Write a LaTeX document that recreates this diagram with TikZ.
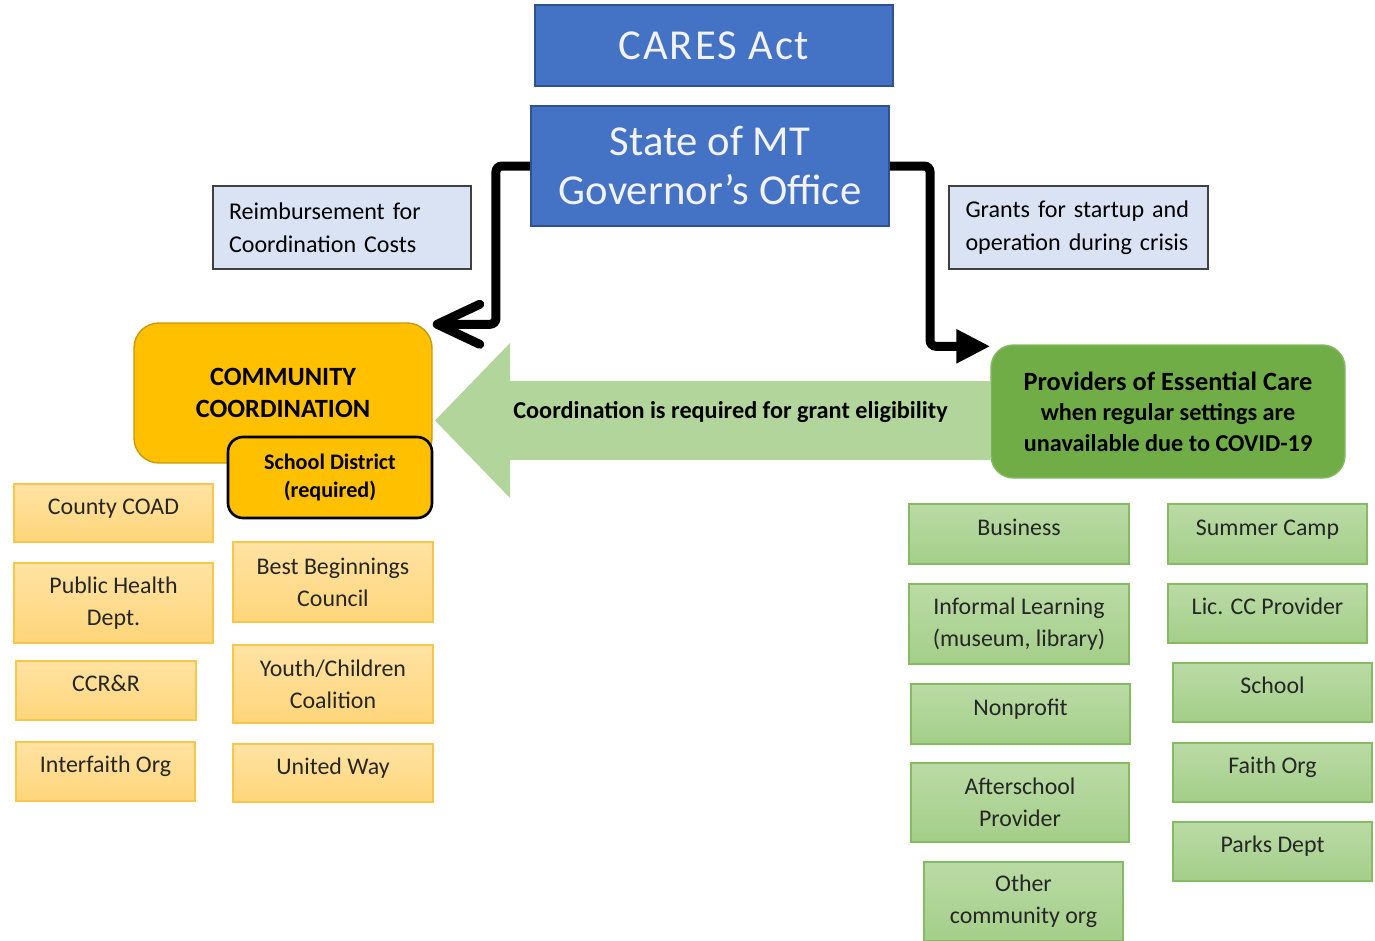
\documentclass[tikz,border=0pt]{standalone}
\usepackage{fontspec}
\setmainfont{Carlito}
\usetikzlibrary{arrows.meta}

\definecolor{govblue}{HTML}{4472C4}
\definecolor{govedge}{HTML}{2F528F}
\definecolor{govtext}{HTML}{F2F2F2}
\definecolor{notefill}{HTML}{DAE3F3}
\definecolor{coordgold}{HTML}{FFC000}
\definecolor{coordedge}{HTML}{C99A0A}
\definecolor{orgtop}{HTML}{FFE3A3}
\definecolor{orgbot}{HTML}{FFD57A}
\definecolor{orgedge}{HTML}{F9C64C}
\definecolor{provgreen}{HTML}{70AD47}
\definecolor{grntop}{HTML}{BADBA5}
\definecolor{grnbot}{HTML}{A4CE89}
\definecolor{grnedge}{HTML}{86BB63}
\definecolor{linkgreen}{HTML}{B2D59B}

\tikzset{
  govbox/.style={fill=govblue, draw=govedge, line width=1.2pt, text=govtext, align=center,
    font=\fontsize{24.3}{27.9}\selectfont},
  notebox/.style={fill=notefill, draw=black!75, line width=0.6pt, align=left, text width=4.52cm,
    font=\fontsize{13.7}{18.8}\selectfont},
  coordbox/.style={fill=coordgold, draw=coordedge, line width=0.8pt, rounded corners=0.5cm, align=center,
    font=\bfseries\fontsize{15}{18.2}\selectfont},
  schoolbox/.style={fill=coordgold, draw=black, line width=1.5pt, rounded corners=0.3cm, align=center,
    font=\bfseries\fontsize{12.6}{15.9}\selectfont},
  provbox/.style={fill=provgreen, draw=provgreen!85!white, line width=0.8pt, rounded corners=0.45cm, align=center,
    font=\bfseries\fontsize{13.8}{17.4}\selectfont},
  orgbox/.style={top color=orgtop, bottom color=orgbot, draw=orgedge, line width=0.8pt, align=center,
    text=black!85, font=\fontsize{13.6}{18.2}\selectfont},
  grnbox/.style={top color=grntop, bottom color=grnbot, draw=grnedge, line width=0.8pt, align=center,
    text=black!85, font=\fontsize{13.6}{18.2}\selectfont},
  oneline/.style={text height=9pt, text depth=7.6pt},
  linktext/.style={font=\bfseries\fontsize{13.8}{16}\selectfont},
  flowline/.style={line width=0.18cm, rounded corners=0.12cm}
}

\begin{document}
\begin{tikzpicture}[x=0.02cm, y=-0.02cm]
  \useasboundingbox (0,0) rectangle (1375,940);
  \def\orgBox#1#2#3#4#5#6#7{\node[#1, minimum width={(#5-#3)*0.02cm}, minimum height={(#6-#4)*0.02cm}]
    (#2) at ({(#3+#5)/2},{(#4+#6)/2}) {#7};}

  \fill[linkgreen] (990,381) -- (510,381) -- (510,343) -- (435,420.5) -- (510,498) -- (510,460) -- (990,460) -- cycle;
  \node[linktext] (eligible) at (730.5,412) {Coordination is required for grant eligibility};

  \orgBox{govbox}{cares}{535}{5}{893}{86}{\addfontfeatures{LetterSpace=4.4}CARES Act}
  \orgBox{govbox}{gov}{531}{106}{889}{226}{State of MT\\Governor’s Office}
  \orgBox{notebox}{reimb}{213}{186}{471}{269}{Reimbursement for\\Coordination Costs}
  \orgBox{notebox}{grants}{949}{186}{1208}{269}{Grants for startup and\\operation during crisis}

  \orgBox{coordbox}{cc}{134}{323}{432}{463}{COMMUNITY\\COORDINATION}
  \orgBox{schoolbox}{school}{228}{437}{432}{518}{School District\\(required)}
  \orgBox{provbox}{prov}{991}{345}{1345}{478}{{\fontsize{15}{17.4}\selectfont Providers of Essential Care}\\when regular settings are\\unavailable due to COVID-19}

  \orgBox{orgbox, oneline}{coad}{14}{484}{213}{542}{County COAD}
  \orgBox{orgbox}{health}{14}{563}{213}{643}{Public Health\\Dept.}
  \orgBox{orgbox, oneline}{ccrr}{16}{661}{196}{720}{CCR\&R}
  \orgBox{orgbox, oneline}{interfaith}{16}{742}{195}{801}{Interfaith Org}
  \orgBox{orgbox}{bestbeg}{233}{542}{433}{622}{Best Beginnings\\Council}
  \orgBox{orgbox}{youth}{233}{645}{433}{723}{Youth/Children\\Coalition}
  \orgBox{orgbox, oneline}{unitedway}{233}{744}{433}{802}{United Way}

  \orgBox{grnbox, oneline}{business}{909}{504}{1129}{564}{Business}
  \orgBox{grnbox}{informal}{909}{584}{1129}{664}{Informal Learning\\(museum, library)}
  \orgBox{grnbox, oneline}{nonprofit}{911}{684}{1130}{744}{Nonprofit}
  \orgBox{grnbox}{afterschool}{911}{763}{1129}{842}{Afterschool\\Provider}
  \orgBox{grnbox}{othercomm}{924}{862}{1123}{941}{Other\\community org}
  \orgBox{grnbox, oneline}{summer}{1168}{504}{1367}{564}{Summer Camp}
  \orgBox{grnbox, oneline}{licensed}{1168}{584}{1367}{643}{Lic. CC Provider}
  \orgBox{grnbox, oneline}{schoolorg}{1173}{663}{1372}{722}{School}
  \orgBox{grnbox, oneline}{faith}{1173}{743}{1372}{802}{Faith Org}
  \orgBox{grnbox, oneline}{parks}{1173}{822}{1372}{881}{Parks Dept}

  \draw[flowline, -{Straight Barb[length=0.85cm, width=0.8cm, round]}]
    (gov.west) -- ++(-34,0) |- ([yshift=-0.04cm]cc.north east);
  \draw[flowline, -{Triangle[length=0.68cm, width=0.64cm]}]
    (gov.east) -- ++(40,0) |- ([yshift=-0.04cm]prov.north west);
\end{tikzpicture}
\end{document}
